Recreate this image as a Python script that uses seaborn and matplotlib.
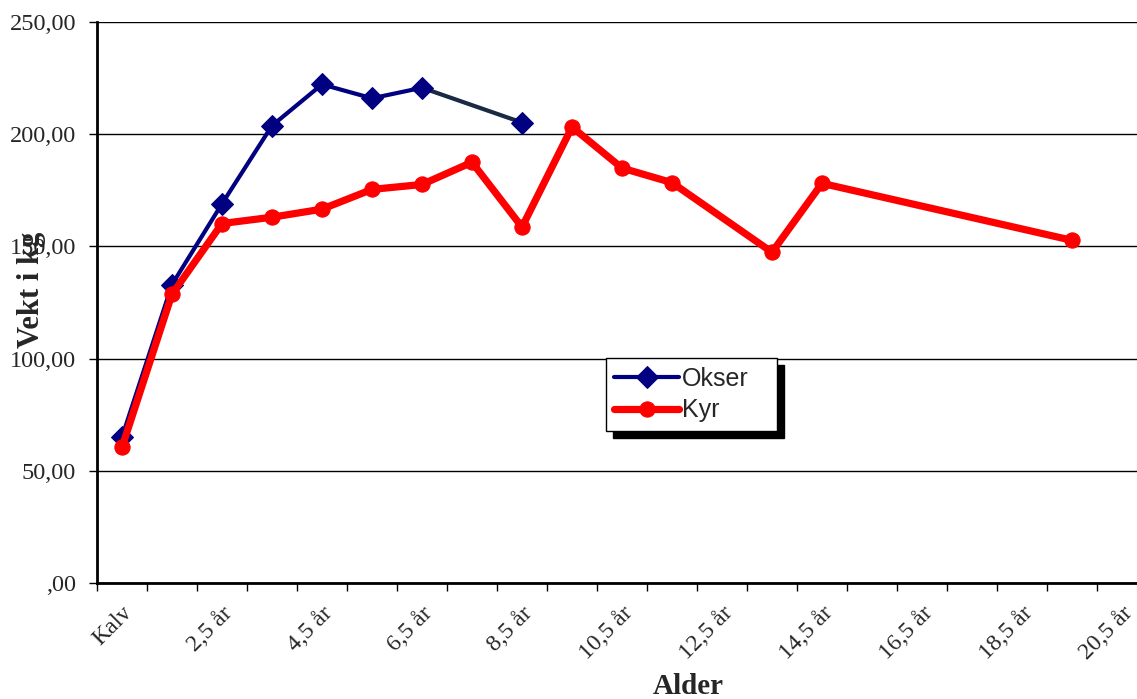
import numpy as np
import pandas as pd
import seaborn as sns
import matplotlib.pyplot as plt

# categories (age) and weights
ages = ['Kalv', '1,5 år', '2,5 år', '3,5 år', '4,5 år', '5,5 år', '6,5 år',
        '7,5 år', '8,5 år', '9,5 år', '10,5 år', '11,5 år', '12,5 år',
        '13,5 år', '14,5 år', '15,5 år', '16,5 år', '17,5 år', '18,5 år',
        '19,5 år', '20,5 år']
okser = [65.0, 133.0, 169.0, 203.8, 222.2, 216.0, 220.7, np.nan, 205.2,
         np.nan, np.nan, np.nan, np.nan, np.nan, np.nan, np.nan, np.nan,
         np.nan, np.nan, np.nan, np.nan]
kyr = [60.5, 128.7, 160.2, 163.0, 166.6, 175.4, 177.6, 187.5, 158.6,
       203.2, 184.9, 178.4, np.nan, 147.4, 178.1, np.nan, np.nan, np.nan,
       np.nan, 152.7, np.nan]
yticks = [0, 50, 100, 150, 200, 250]
ytick_labels = [',00', '50,00', '100,00', '150,00', '200,00', '250,00']

NAVY = '#000080'
RED = '#FF0000'
GAP = '#1B2A44'


def main():
    sns.set_theme(style='white')
    plt.rcParams['font.family'] = ['Liberation Serif', 'DejaVu Serif']

    df = pd.DataFrame({'pos': np.arange(len(ages)), 'Okser': okser,
                       'Kyr': kyr})

    fig = plt.figure(figsize=(11.37, 6.99), dpi=100)
    ax = fig.add_axes([97 / 1137, 1 - 583 / 699, 1 - 97 / 1137,
                       (583 - 22) / 699])

    # okser: the line across the missing age is darker, as in the original
    ok = df.dropna(subset=['Okser'])
    gaps = np.where(np.diff(ok['pos'].values) > 1)[0]
    for g in gaps:
        seg = ok.iloc[g:g + 2]
        ax.plot(seg['pos'], seg['Okser'], color=GAP, lw=3, zorder=2,
                solid_capstyle='butt')

    grp = (ok['pos'].diff() > 1).cumsum()
    for i, (_, part) in enumerate(ok.groupby(grp)):
        sns.lineplot(data=part, x='pos', y='Okser', ax=ax, color=NAVY,
                     lw=3, marker='D', markersize=11,
                     markeredgecolor=NAVY, zorder=3,
                     label='Okser' if i == 0 else None)

    ky = df.dropna(subset=['Kyr'])
    sns.lineplot(data=ky, x='pos', y='Kyr', ax=ax, color=RED, lw=5.2,
                 marker='o', markersize=11, markeredgecolor=RED, zorder=4,
                 label='Kyr')

    ax.set_yticks(yticks)
    ax.set_yticklabels(ytick_labels, fontsize=17.5)
    ax.set_xticks(np.arange(len(ages)))
    ax.set_xticklabels([a if i % 2 == 0 else '' for i, a in enumerate(ages)],
                       rotation=45, ha='right', va='top',
                       rotation_mode='anchor', fontsize=17)
    ax.set_xticks(np.arange(len(ages) + 1) - 0.5, minor=True)
    ax.set_xlim(-0.5, 20.3)
    ax.set_ylim(0, 250)
    ax.tick_params(axis='x', which='major', length=0, pad=14)
    ax.tick_params(axis='x', which='minor', length=6, width=1,
                   color='black', bottom=True)
    ax.tick_params(axis='y', length=6, width=1, color='black', left=True,
                   pad=9)
    ax.yaxis.grid(True, color='black', lw=1)
    ax.set_axisbelow(True)
    for s in ['top', 'right']:
        ax.spines[s].set_visible(False)
    for s in ['left', 'bottom']:
        ax.spines[s].set_color('black')
        ax.spines[s].set_linewidth(2)
    ax.set_xlabel('')
    ax.set_ylabel('')

    fig.text(688 / 1137, 1 - 686 / 699, 'Alder', fontsize=21,
             fontweight='bold', ha='center', va='center')
    fig.text(31 / 1137, 1 - 290 / 699, 'Vekt i kg', fontsize=22,
             fontweight='bold', ha='center', va='center', rotation=90)

    leg = ax.legend(loc='upper left',
                    bbox_to_anchor=(0.489, 0.401, 0.165, 0),
                    mode='expand', borderaxespad=0, frameon=True,
                    fancybox=False,
                    shadow={'ox': 5, 'oy': -5, 'color': 'black',
                            'alpha': 1},
                    prop={'family': 'Liberation Sans', 'size': 18},
                    handlelength=2.6, handletextpad=0.1, borderpad=0.35,
                    labelspacing=0.3)
    leg.get_frame().set_edgecolor('black')
    leg.get_frame().set_linewidth(1)
    leg.get_frame().set_facecolor('white')

    fig.savefig('out.png', dpi=100)


if __name__ == '__main__':
    main()
